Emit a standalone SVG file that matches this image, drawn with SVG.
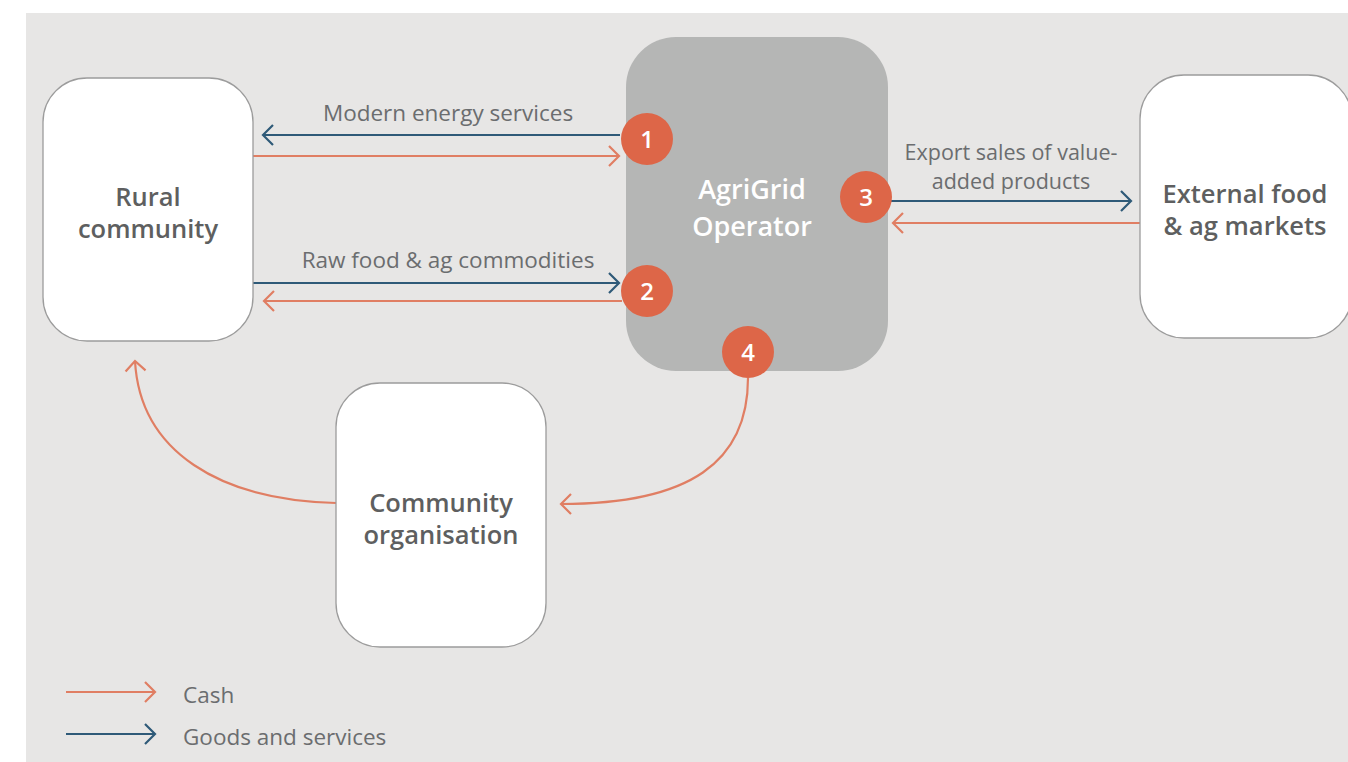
<svg xmlns="http://www.w3.org/2000/svg" width="1348" height="762" viewBox="0 0 1348 762">
  <defs>
    <style>
      .bg { fill: #e7e6e5; }
      .node { fill: #ffffff; stroke: #9c9c9c; stroke-width: 1.3; }
      .op { fill: #b5b6b5; }
      .ntext { font-family: "Open Sans", "Noto Sans", sans-serif; font-weight: 600; font-size: 25.5px; fill: #5e5f60; text-anchor: middle; }
      .optext { font-family: "Open Sans", "Noto Sans", sans-serif; font-weight: 600; font-size: 27px; fill: #ffffff; text-anchor: middle; }
      .label { font-family: "Open Sans", "Noto Sans", sans-serif; font-size: 22.5px; fill: #6b6d6f; text-anchor: middle; }
      .label2 { font-family: "Open Sans", "Noto Sans", sans-serif; font-size: 21.5px; fill: #6b6d6f; text-anchor: middle; }
      .legend { font-family: "Open Sans", "Noto Sans", sans-serif; font-size: 22.5px; fill: #6b6d6f; }
      .badge { fill: #dd6648; }
      .btext { font-family: "Open Sans", "Noto Sans", sans-serif; font-weight: 600; font-size: 24px; fill: #ffffff; text-anchor: middle; }
      .cash { fill: none; stroke: #e07e63; stroke-width: 2.2; }
      .goods { fill: none; stroke: #2f5a78; stroke-width: 2.2; }
    </style>
    <marker id="ah-cash" markerUnits="userSpaceOnUse" viewBox="-12 -12 14 24" refX="0" refY="0" markerWidth="14" markerHeight="24" orient="auto">
      <path d="M-10,-10 L0,0 L-10,10" fill="none" stroke="#e07e63" stroke-width="2.2"/>
    </marker>
    <marker id="ah-goods" markerUnits="userSpaceOnUse" viewBox="-12 -12 14 24" refX="0" refY="0" markerWidth="14" markerHeight="24" orient="auto">
      <path d="M-10,-10 L0,0 L-10,10" fill="none" stroke="#2f5a78" stroke-width="2.2"/>
    </marker>
  </defs>

  <rect x="0" y="0" width="1348" height="762" fill="#ffffff"/>
  <rect class="bg" x="26" y="13" width="1322" height="749"/>

  <g id="connectors">
    <line class="goods" x1="620" y1="135" x2="263" y2="135" marker-end="url(#ah-goods)"/>
    <line class="cash" x1="253" y1="156" x2="619" y2="156" marker-end="url(#ah-cash)"/>
    <line class="goods" x1="253" y1="283" x2="619" y2="283" marker-end="url(#ah-goods)"/>
    <line class="cash" x1="622" y1="301" x2="264" y2="301" marker-end="url(#ah-cash)"/>
    <line class="goods" x1="886" y1="201" x2="1131" y2="201" marker-end="url(#ah-goods)"/>
    <line class="cash" x1="1140" y1="223" x2="893" y2="223" marker-end="url(#ah-cash)"/>
    <path class="cash" d="M748,378 C748,462 690,504 561,504" marker-end="url(#ah-cash)"/>
    <path class="cash" d="M336,503 C220,500 140,452 135,361" marker-end="url(#ah-cash)"/>
  </g>

  <g id="rural-community">
    <rect class="node" x="43" y="78" width="210" height="263" rx="44" ry="44"/>
    <text class="ntext" x="148" y="206">Rural</text>
    <text class="ntext" x="148" y="238">community</text>
  </g>

  <g id="agrigrid-operator">
    <rect class="op" x="626" y="37" width="262" height="334" rx="50" ry="50"/>
    <text class="optext" x="752" y="199">AgriGrid</text>
    <text class="optext" x="752" y="236">Operator</text>
  </g>

  <g id="external-markets">
    <rect class="node" x="1140" y="75" width="212" height="263" rx="44" ry="44"/>
    <text class="ntext" x="1245" y="203">External food</text>
    <text class="ntext" x="1245" y="235">&amp; ag markets</text>
  </g>

  <g id="community-organisation">
    <rect class="node" x="336" y="383" width="210" height="264" rx="44" ry="44"/>
    <text class="ntext" x="441" y="512">Community</text>
    <text class="ntext" x="441" y="544">organisation</text>
  </g>

  <g id="badge-1">
    <circle class="badge" cx="647" cy="139" r="26"/>
    <text class="btext" x="647" y="147.5">1</text>
  </g>
  <g id="badge-2">
    <circle class="badge" cx="647" cy="291" r="26"/>
    <text class="btext" x="647" y="299.5">2</text>
  </g>
  <g id="badge-3">
    <circle class="badge" cx="866" cy="197" r="26"/>
    <text class="btext" x="866" y="205.5">3</text>
  </g>
  <g id="badge-4">
    <circle class="badge" cx="748" cy="352" r="26"/>
    <text class="btext" x="748" y="360.5">4</text>
  </g>

  <g id="labels">
    <text class="label" x="448" y="121">Modern energy services</text>
    <text class="label" x="448" y="268">Raw food &amp; ag commodities</text>
    <text class="label2" x="1011" y="160">Export sales of value-</text>
    <text class="label2" x="1011" y="189">added products</text>
  </g>

  <g id="legend">
    <line class="cash" x1="66" y1="692" x2="155" y2="692" marker-end="url(#ah-cash)"/>
    <text class="legend" x="183" y="703">Cash</text>
    <line class="goods" x1="66" y1="734" x2="155" y2="734" marker-end="url(#ah-goods)"/>
    <text class="legend" x="183" y="745">Goods and services</text>
  </g>
</svg>
